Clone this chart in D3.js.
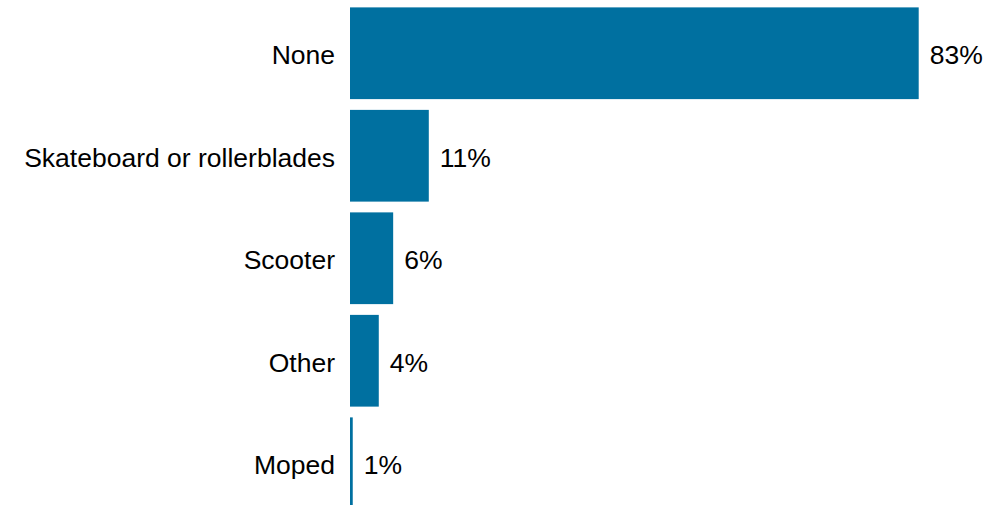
<!DOCTYPE html>
<html>
<head>
<meta charset="utf-8">
<script src="https://cdn.jsdelivr.net/npm/d3@7"></script>
<style>
  body { margin: 0; background: #fff; }
  text { font-family: "Liberation Sans", Arial, sans-serif; fill: #000; }
</style>
</head>
<body>
<div class="chart"></div>
<script>
var svgWidth = 1007;
var svgHeight = 505;

// values
var categories = ["None", "Skateboard or rollerblades", "Scooter", "Other", "Moped"];
var values = [83, 11.5, 6.3, 4.2, 0.4];
var valueLabels = ["83%", "11%", "6%", "4%", "1%"];

var theData = categories.map(function(c, i) {
  return { name: c, value: values[i], label: valueLabels[i] };
});

var svg = d3.select(".chart")
  .append("svg")
  .attr("width", svgWidth)
  .attr("height", svgHeight);

// Create scale functions
var xLinearScale = d3.scaleLinear()
  .domain([0, 83])
  .range([350, 918.7]);

var yBandScale = d3.scaleBand()
  .domain(categories)
  .range([2, 514.5])
  .paddingInner(0.105)
  .paddingOuter(0.0525);

// Create bars
svg.selectAll("rect")
  .data(theData)
  .enter()
  .append("rect")
    .attr("x", xLinearScale(0))
    .attr("y", d => yBandScale(d.name))
    .attr("width", d => xLinearScale(d.value) - xLinearScale(0))
    .attr("height", yBandScale.bandwidth())
    .attr("fill", "#0070a0");

// category labels
svg.selectAll(".catLabel")
  .data(theData)
  .enter()
  .append("text")
    .attr("class", "catLabel")
    .attr("x", xLinearScale(0) - 15)
    .attr("y", d => yBandScale(d.name) + yBandScale.bandwidth() / 2)
    .attr("dy", "0.41em")
    .attr("text-anchor", "end")
    .style("font-size", "26.5px")
    .text(d => d.name);

// value labels
svg.selectAll(".valLabel")
  .data(theData)
  .enter()
  .append("text")
    .attr("class", "valLabel")
    .attr("x", d => xLinearScale(d.value) + 11)
    .attr("y", d => yBandScale(d.name) + yBandScale.bandwidth() / 2)
    .attr("dy", "0.41em")
    .style("font-size", "26.5px")
    .text(d => d.label);
</script>
</body>
</html>
